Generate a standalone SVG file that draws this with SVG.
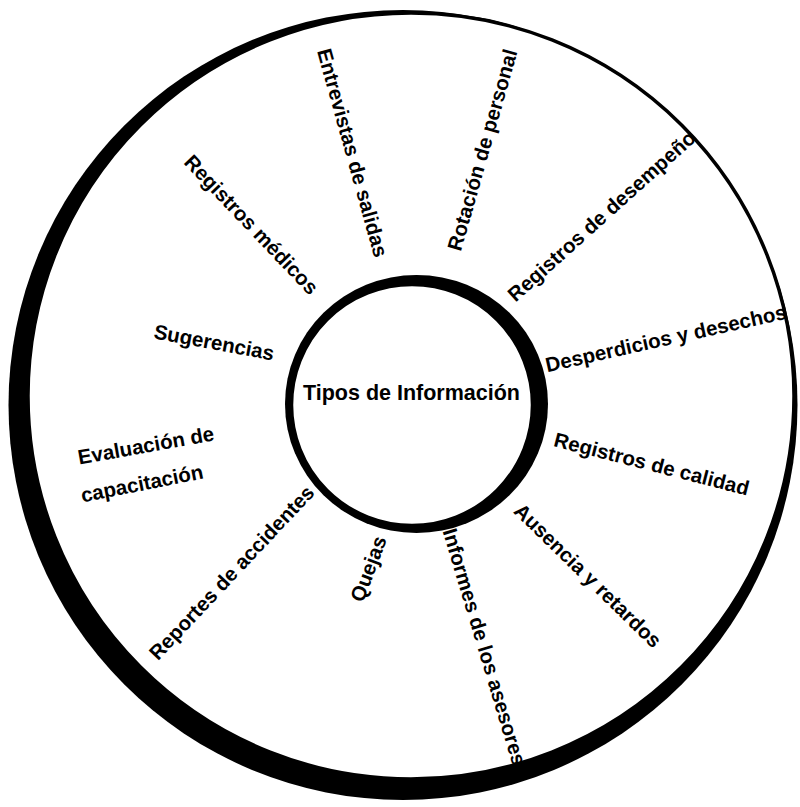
<svg xmlns="http://www.w3.org/2000/svg" width="800" height="807" viewBox="0 0 800 807">
  <style>
    .lbl { font-family: "Liberation Sans", Arial, Helvetica, sans-serif; font-weight: bold; font-size: 20.5px; fill: #000; text-anchor: middle; }
    .title { font-size: 21.5px; }
    .ink { fill: #000; }
    .disc { fill: #fff; stroke: #000; }
  </style>
  <rect x="0" y="0" width="800" height="807" fill="#fff"/>
  <g id="outer-ring">
    <ellipse class="ink" cx="403" cy="405" rx="394.5" ry="395"/>
    <circle class="disc" cx="411" cy="396" r="383" stroke-width="3.5"/>
  </g>
  <g id="inner-ring">
    <ellipse class="ink" cx="416.5" cy="404" rx="131.5" ry="129"/>
    <circle class="disc" cx="412" cy="405" r="121" stroke-width="4.5"/>
  </g>
  <g id="center">
    <text class="lbl title" x="411.5" y="400">Tipos de Información</text>
  </g>
  <g id="entrevistas">
    <text class="lbl" transform="translate(352,153) rotate(74.5)" y="6.5">Entrevistas de salidas</text>
  </g>
  <g id="rotacion">
    <text class="lbl" transform="translate(483,150) rotate(-74.2)" y="6.5">Rotación de personal</text>
  </g>
  <g id="desempeno">
    <text class="lbl" transform="translate(602,216.5) rotate(-41.9)" y="6.5">Registros de desempeño</text>
  </g>
  <g id="desperdicios">
    <text class="lbl" transform="translate(666,339) rotate(-12.6)" y="6.5">Desperdicios y desechos</text>
  </g>
  <g id="calidad">
    <text class="lbl" transform="translate(651.5,464.5) rotate(14.3)" y="6.5">Registros de calidad</text>
  </g>
  <g id="ausencia">
    <text class="lbl" transform="translate(587.5,576) rotate(44.3)" y="6.5">Ausencia y retardos</text>
  </g>
  <g id="informes">
    <text class="lbl" transform="translate(484,647) rotate(73.4)" y="6.5">Informes de los asesores</text>
  </g>
  <g id="quejas">
    <text class="lbl" transform="translate(369,569) rotate(-69.4)" y="6.5">Quejas</text>
  </g>
  <g id="accidentes">
    <text class="lbl" transform="translate(232,573) rotate(-46.8)" y="6.5">Reportes de accidentes</text>
  </g>
  <g id="capacitacion">
    <text class="lbl" transform="translate(146,446) rotate(-10.2)" y="6.5">Evaluación de</text>
    <text class="lbl" transform="translate(142,484) rotate(-11.3)" y="6.5">capacitación</text>
  </g>
  <g id="sugerencias">
    <text class="lbl" transform="translate(214,343) rotate(10.5)" y="6.5">Sugerencias</text>
  </g>
  <g id="medicos">
    <text class="lbl" transform="translate(251,225) rotate(46.4)" y="6.5">Registros médicos</text>
  </g>
</svg>
